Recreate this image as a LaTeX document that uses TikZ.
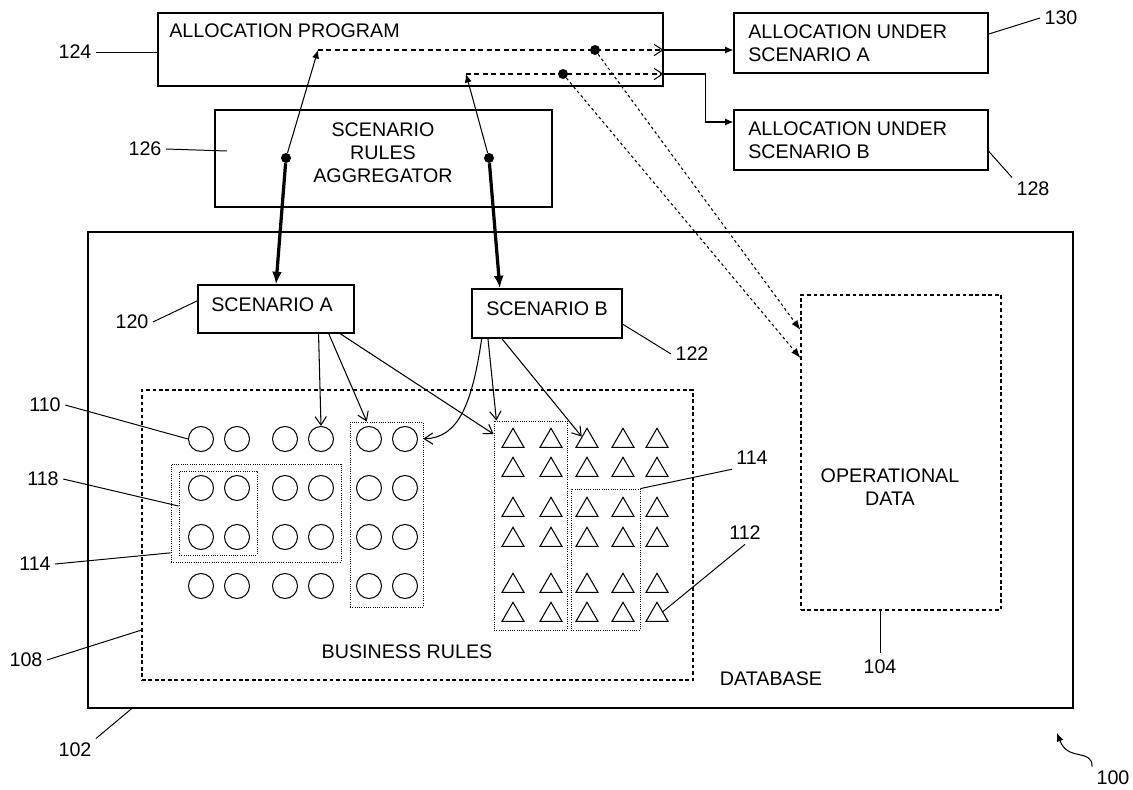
\documentclass[tikz,border=0pt]{standalone}
\usepackage{fontspec}
\setmainfont{Liberation Sans}
\usetikzlibrary{arrows.meta,fit,shapes.geometric,calc}

\tikzset{
	box/.style={draw, line width=0.8pt, inner sep=0pt},
	dashbox/.style={draw, line width=0.8pt, dash pattern=on 2.6pt off 2pt, inner sep=0pt},
	groupbox/.style={draw, line width=0.6pt, densely dotted, inner sep=0pt},
	txt/.style={inner sep=0pt, align=center},
	lbl/.style={inner sep=3pt},
	lead/.style={line width=0.7pt},
	dot/.style={circle, fill, inner sep=0pt, minimum size=0.25cm},
	rulec/.style={circle, draw, line width=0.75pt, minimum size=0.625cm, inner sep=0pt},
	rulet/.style={regular polygon, regular polygon sides=3, draw, line width=0.75pt, minimum size=0.635cm, inner sep=0pt},
	pick/.style={line width=0.75pt, -{Straight Barb[length=6pt,width=8pt]}},
	feed/.style={line width=0.75pt, -{Latex[length=6pt,width=5pt]}},
	heavy/.style={line width=2.3pt, -{Latex[length=9pt,width=7pt]}},
	result/.style={line width=0.75pt, dash pattern=on 3.5pt off 2.5pt, -{Straight Barb[length=6pt,width=8pt]}},
	fetch/.style={line width=0.75pt, dash pattern=on 2pt off 2pt, -{Latex[length=7pt,width=5pt]}},
}

\begin{document}
\begin{tikzpicture}[x=0.025cm, y=-0.025cm, font=\fontsize{14}{16.5}\selectfont]
	\useasboundingbox (0,0) rectangle (1133,790);

	% Allocation program and results
	\node[box, fit={(158,13) (663,86)}] (prog) {};
	\node[txt, anchor=west] (progtxt) at (169,31) {ALLOCATION PROGRAM};
	\node[box, fit={(734,13) (988,73)}] (allocA) {};
	\node[txt, anchor=west, align=left] (allocAtxt) at (748,43) {ALLOCATION UNDER\\SCENARIO A};
	\node[box, fit={(734,110) (988,170)}] (allocB) {};
	\node[txt, anchor=west, align=left] (allocBtxt) at (748,140) {ALLOCATION UNDER\\SCENARIO B};

	% Aggregator
	\node[box, fit={(215,110) (552,207)}] (agg) {};
	\node[txt] (aggtxt) at (383,153) {SCENARIO\\RULES\\AGGREGATOR};
	\node[dot] (dotL) at (286,158) {};
	\node[dot] (dotR) at (489,158) {};

	% Database
	\node[box, fit={(88,232) (1073,708)}] (db) {};
	\node[txt] (dbtxt) at (771,679) {DATABASE};
	\node[dashbox, fit={(801,295) (1001,610)}] (op) {};
	\node[txt] (optxt) at (890,487) {OPERATIONAL\\DATA};
	\node[dashbox, fit={(142,390) (693,680)}] (br) {};
	\node[txt] (brtxt) at (407,652) {BUSINESS RULES};

	% Scenarios
	\node[box, fit={(198,285) (354,333)}] (scA) {};
	\node[txt] (scAtxt) at (272,305) {SCENARIO A};
	\node[box, fit={(472,289) (622,338)}] (scB) {};
	\node[txt] (scBtxt) at (547,309) {SCENARIO B};

	% Rules
	\foreach \r/\y in {1/439,2/488,3/537,4/586}
		\foreach \c/\x in {1/201,2/237,3/285,4/321,5/369,6/405}
			\node[rulec] (c-\r-\c) at (\x,\y) {};
	\foreach \r/\y in {1/438,2/467,3/507,4/537,5/583,6/612}
		\foreach \c/\x in {1/513,2/551,3/587,4/623,5/657}
			\node[rulet] (t-\r-\c) at (\x,\y+3) {};
	\node[groupbox, fit={(179,471) (257,555)}] (g118) {};
	\node[groupbox, fit={(171,464) (341,562)}] (g114a) {};
	\node[groupbox, fit={(350,422) (423,607)}] (gcol) {};
	\node[groupbox, fit={(494,421) (567,630)}] (gtl) {};
	\node[groupbox, fit={(571,489) (640,630)}] (g114b) {};

	% Flow between the program, the aggregator and the scenarios
	\coordinate (tipA) at (318,50);
	\coordinate (tipB) at (466,74);
	\node[dot] (dotA) at (595,50) {};
	\node[dot] (dotB) at (563,74) {};
	\draw[feed] (dotL) -- (tipA);
	\draw[feed] (dotR) -- (tipB);
	\draw[result] (tipA) -- (prog.east |- tipA);
	\draw[result] (tipB) -- (prog.east |- tipB);
	\draw[heavy] (dotL) -- (scA.north);
	\draw[heavy] (dotR) -- (scB.152);
	\draw[feed] (prog.east |- tipA) -- (tipA -| allocA.west);
	\coordinate (inB) at ($(allocB.west)+(0,-18)$);
	\draw[feed] (prog.east |- tipB) -- ++(42,0) |- (inB);
	\draw[fetch] (dotA) -- (op.west |- 0,330);
	\draw[fetch] (dotB) -- (op.west |- 0,358);

	% Scenarios pick rules
	\draw[pick] (scA.-30) -- (c-1-4.north);
	\draw[pick] (scA.-25) -- (gcol.102);
	\draw[pick] (scA.-21) -- (gtl.112);
	\draw[pick] (scB.201) .. controls (472,405) and (458,438) .. (gcol.64);
	\draw[pick] (scB.203) -- (gtl.108);
	\draw[pick] (scB.209) -- (t-1-3.140);

	% Reference numerals
	\node[lbl] (l124) at (75,52) {124};
	\draw[lead] (l124.east) -- (l124.east -| prog.west);
	\node[lbl] (l126) at (145,149) {126};
	\coordinate (e126) at (227,151);
	\draw[lead] (l126.east) -- (e126);
	\node[lbl] (l130) at (1061,18) {130};
	\draw[lead] (allocA.4) -- (l130.west);
	\node[lbl] (l128) at (1033,189) {128};
	\draw[lead] (allocB.-5) -- (l128.north west);
	\node[lbl] (l120) at (132,322) {120};
	\draw[lead] (l120.east) -- (scA.174);
	\node[lbl] (l122) at (692,354) {122};
	\draw[lead] (scB.-8) -- (l122.west);
	\node[lbl] (l110) at (45,405) {110};
	\draw[lead] (l110.east) -- (c-1-1.west);
	\node[lbl] (l118) at (43,479) {118};
	\draw[lead] (l118.east) -- (g118.170);
	\node[lbl] (l114a) at (35,564) {114};
	\draw[lead] (l114a.east) -- (g114a.205);
	\node[lbl] (l108) at (26,660) {108};
	\draw[lead] (l108.east) -- (br.199);
	\node[lbl] (l102) at (75,750) {102};
	\draw[lead] (l102.north east) -- (db.208);
	\node[lbl] (l114b) at (752,458) {114};
	\draw[lead] (g114b.north east) -- (l114b.south west);
	\node[lbl] (l112) at (745,533) {112};
	\draw[lead] (t-6-5.30) -- (l112.south);
	\node[lbl, inner sep=5pt] (l104) at (880,667) {104};
	\draw[lead] (l104.north |- op.south) -- (l104.north);
	\node[lbl] (l100) at (1113,778) {100};
	\coordinate (tip100) at (1057,733);
	\draw[feed] (l100.north west) .. controls (1092,748) and (1068,762) .. (tip100);
\end{tikzpicture}
\end{document}
